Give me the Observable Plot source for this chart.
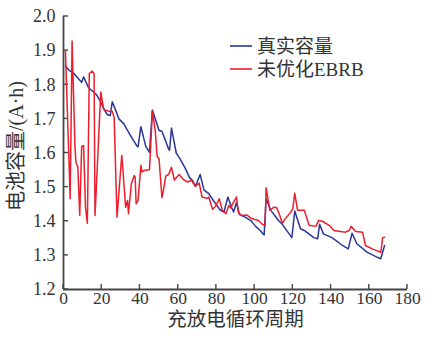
<!DOCTYPE html>
<html>
<head>
<meta charset="utf-8">
<script src="https://cdn.jsdelivr.net/npm/d3@7"></script>
<script src="https://cdn.jsdelivr.net/npm/@observablehq/plot@0.6"></script>
<style>
  html, body { margin: 0; padding: 0; background: #fff; }
</style>
</head>
<body>
<div id="chart"></div>
<script>
// ---- data ----
const trueCycle = [1, 3, 5.5, 7, 9.5, 10.5, 13, 14.5, 16, 17.5, 19.5, 21.5, 23, 24.5, 25.5, 27, 29, 31.5, 33.5, 36, 38.5, 39, 40.5, 43, 45, 46.5, 50, 51.5, 55, 55.5, 56.5, 59, 61, 64, 66, 67.5, 69, 71.5, 73.5, 76, 78.5, 82, 84, 86, 88, 89, 90.5, 92, 95, 98, 100.5, 103, 104.5, 105, 106, 108.5, 112.5, 114.5, 119.5, 121, 124, 126, 131, 133, 134, 136, 140.5, 146, 149, 151, 153.5, 159, 164, 166, 168];
const trueCap = [1.855, 1.842, 1.833, 1.823, 1.807, 1.823, 1.793, 1.784, 1.778, 1.769, 1.749, 1.725, 1.712, 1.71, 1.75, 1.73, 1.70, 1.686, 1.666, 1.642, 1.62, 1.618, 1.677, 1.62, 1.602, 1.726, 1.666, 1.664, 1.612, 1.608, 1.673, 1.6, 1.583, 1.552, 1.527, 1.52, 1.502, 1.537, 1.492, 1.481, 1.46, 1.433, 1.427, 1.471, 1.44, 1.427, 1.455, 1.42, 1.412, 1.402, 1.385, 1.373, 1.362, 1.36, 1.466, 1.432, 1.402, 1.391, 1.352, 1.43, 1.378, 1.373, 1.352, 1.349, 1.391, 1.363, 1.352, 1.329, 1.319, 1.365, 1.334, 1.309, 1.295, 1.29, 1.329];

const ebrbCycle = [1, 3.5, 4.5, 6, 6.5, 7.5, 8.5, 9.5, 10.5, 11.5, 12.5, 13.5, 15, 16, 16.5, 19.5, 21, 22, 24, 25.5, 26.5, 28, 30.5, 31, 32.5, 33.5, 34, 35.5, 37, 37.5, 38, 39, 40.5, 41, 42, 45, 46.5, 48, 49, 50, 51.5, 52, 53.5, 55, 56.5, 58, 60.5, 63, 65, 67, 69, 71, 72.5, 75, 76, 78, 79.5, 81.5, 83, 85, 86.5, 87.5, 88.5, 90.5, 91.5, 93, 96, 98.5, 102, 104, 105.5, 106, 108, 110, 111.5, 113, 114.5, 116, 119, 120, 121, 122.5, 126, 128.5, 132, 133.5, 135.5, 139, 141.5, 147.5, 149.5, 150.5, 153, 156.5, 158, 161.5, 164, 166, 167, 168];
const ebrbCap = [1.90, 1.466, 1.928, 1.617, 1.573, 1.559, 1.417, 1.619, 1.622, 1.441, 1.394, 1.833, 1.84, 1.833, 1.417, 1.779, 1.728, 1.725, 1.722, 1.722, 1.705, 1.412, 1.593, 1.559, 1.441, 1.461, 1.422, 1.51, 1.534, 1.529, 1.451, 1.461, 1.564, 1.544, 1.549, 1.551, 1.722, 1.666, 1.59, 1.583, 1.469, 1.481, 1.532, 1.537, 1.558, 1.521, 1.537, 1.521, 1.515, 1.52, 1.502, 1.512, 1.471, 1.467, 1.471, 1.435, 1.443, 1.466, 1.434, 1.422, 1.446, 1.439, 1.451, 1.471, 1.427, 1.417, 1.418, 1.408, 1.402, 1.391, 1.388, 1.498, 1.432, 1.441, 1.44, 1.42, 1.394, 1.407, 1.427, 1.437, 1.482, 1.432, 1.432, 1.388, 1.385, 1.402, 1.4, 1.388, 1.373, 1.368, 1.373, 1.385, 1.37, 1.368, 1.329, 1.319, 1.314, 1.309, 1.352, 1.353];

const seriesNames = ["真实容量", "未优化EBRB"];
const seriesColors = ["#2b3596", "#ee1d2c"];
const xTicks = [0, 20, 40, 60, 80, 100, 120, 140, 160, 180];
const yTicks = [1.2, 1.3, 1.4, 1.5, 1.6, 1.7, 1.8, 1.9, 2.0];
const xLabel = "充放电循环周期";
const yLabel = "电池容量/(A·h)";

const trueData = trueCycle.map((c, i) => ({cycle: c, cap: trueCap[i]}));
const ebrbData = ebrbCycle.map((c, i) => ({cycle: c, cap: ebrbCap[i]}));

const FONT = "'Liberation Serif', 'Noto Sans CJK SC', serif";
const AXIS = "#444";

// inward tick marks, drawn through the scales
function innerTicks(index, scales, values, dims) {
  const g = d3.create("svg:g").attr("stroke", AXIS).attr("stroke-width", 1.4);
  const yb = dims.height - dims.marginBottom;
  const xl = dims.marginLeft;
  for (const t of xTicks) {
    const x = scales.x(t);
    g.append("line").attr("x1", x).attr("x2", x).attr("y1", yb).attr("y2", yb - 5);
  }
  for (const t of yTicks) {
    const y = scales.y(t);
    g.append("line").attr("y1", y).attr("y2", y).attr("x1", xl).attr("x2", xl + 5);
  }
  return g.node();
}

// legend in the upper right of the frame
function legendMark(index, scales, values, dims) {
  const g = d3.create("svg:g");
  seriesNames.forEach((name, i) => {
    const y = 46 + i * 23;
    g.append("line").attr("x1", 230).attr("x2", 252).attr("y1", y).attr("y2", y)
      .attr("stroke", seriesColors[i]).attr("stroke-width", 1.6);
    g.append("text").attr("x", 257).attr("y", y).attr("dy", "0.36em")
      .attr("text-anchor", "start")
      .attr("font-size", 19).attr("fill", "#333").attr("font-family", FONT).text(name);
  });
  return g.node();
}

const chart = Plot.plot({
  width: 425,
  height: 337,
  marginLeft: 63,
  marginRight: 18,
  marginTop: 16,
  marginBottom: 48,
  style: {fontFamily: FONT, fontSize: "18px", color: "#333", background: "#fff", overflow: "visible"},
  x: {type: "linear", domain: [0, 180], ticks: xTicks},
  y: {type: "linear", domain: [1.2, 2.0], ticks: yTicks},
  marks: [
    Plot.axisX({ticks: xTicks, tickSize: 0, tickPadding: 2, label: null, fontSize: 17.5}),
    Plot.axisY({ticks: yTicks, tickSize: 0, tickPadding: 8, tickFormat: d3.format(".1f"), label: null, fontSize: 18}),
    innerTicks,
    Plot.ruleY([1.2], {stroke: AXIS, strokeWidth: 1.8}),
    Plot.ruleX([0], {stroke: AXIS, strokeWidth: 1.8}),
    Plot.line(trueData, {x: "cycle", y: "cap", stroke: seriesColors[0], strokeWidth: 1.5}),
    Plot.line(ebrbData, {x: "cycle", y: "cap", stroke: seriesColors[1], strokeWidth: 1.5}),
    Plot.text([xLabel], {frameAnchor: "bottom", dy: 30, lineAnchor: "middle", textAnchor: "middle", text: d => d, fontSize: 19.5, fill: "#333"}),
    Plot.text([yLabel], {frameAnchor: "left", dx: -47, dy: -7, lineAnchor: "middle", textAnchor: "middle", text: d => d, fontSize: 20, rotate: -90, fill: "#333"}),
    legendMark
  ]
});
document.getElementById("chart").appendChild(chart);
</script>
</body>
</html>
